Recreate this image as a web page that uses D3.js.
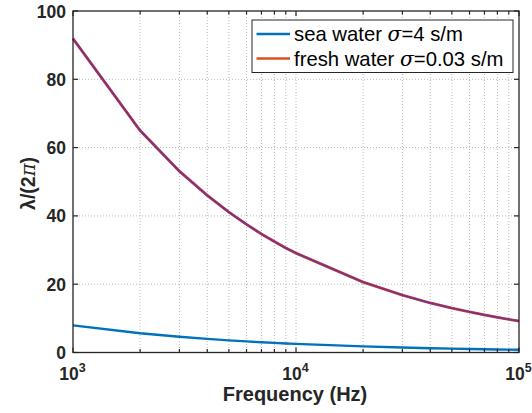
<!DOCTYPE html>
<html lang="en">
<head>
    <meta charset="utf-8">
    <title>Wavelength vs frequency</title>
    <script src="https://cdn.jsdelivr.net/npm/d3@7"></script>
    <style>
        body { margin: 0; background: #fff; }
        text { font-family: "Liberation Sans", Arial, sans-serif; }
    </style>
</head>
<body>
<script>
    // data
    var freq = [1e3, 2e3, 3e3, 4e3, 5e3, 6e3, 7e3, 8e3, 9e3, 1e4,
                2e4, 3e4, 4e4, 5e4, 6e4, 7e4, 8e4, 9e4, 1e5];
    var seaWater = [7.96, 5.63, 4.6, 3.98, 3.56, 3.25, 3.0, 2.81, 2.65, 2.52,
                    1.78, 1.45, 1.26, 1.13, 1.03, 0.95, 0.89, 0.84, 0.80];
    var freshWater = [91.9, 65.0, 53.1, 46.0, 41.1, 37.5, 34.7, 32.5, 30.6, 29.1,
                      20.6, 16.8, 14.5, 13.0, 11.9, 11.0, 10.3, 9.7, 9.2];
    var yTicks = [0, 20, 40, 60, 80, 100];
    var xDecades = [1e3, 1e4, 1e5];
    var seriesNames = ["sea water", "fresh water"];
    var sigmaLabels = ["=4 s/m", "=0.03 s/m"];

    var w = 532, h = 413;
    var pLeft = 73, pRight = 519, pTop = 11, pBottom = 352.5;

    var svg = d3.select("body").append("svg")
        .attr("width", w)
        .attr("height", h);

    var x = d3.scaleLog().domain([1e3, 1e5]).range([pLeft, pRight]);
    var y = d3.scaleLinear().domain([0, 100]).range([pBottom, pTop]);

    // minor/major log ticks
    var xAll = x.ticks();
    var gridColor = "#b8b8b8";

    // grid
    svg.append("g").selectAll("line")
        .data(xAll.filter(function (d) { return d > 1e3 && d < 1e5; }))
        .enter().append("line")
        .attr("x1", d => x(d)).attr("x2", d => x(d))
        .attr("y1", pTop).attr("y2", pBottom)
        .attr("stroke", gridColor)
        .attr("stroke-width", 1)
        .attr("stroke-dasharray", "1,2");

    svg.append("g").selectAll("line")
        .data(yTicks.filter(d => d > 0 && d < 100))
        .enter().append("line")
        .attr("x1", pLeft).attr("x2", pRight)
        .attr("y1", d => y(d)).attr("y2", d => y(d))
        .attr("stroke", gridColor)
        .attr("stroke-width", 1)
        .attr("stroke-dasharray", "1,2");

    // lines
    var line = function (vals) {
        return d3.line()
            .x((d, i) => x(freq[i]))
            .y(d => y(d))(vals);
    };

    svg.append("path")
        .attr("d", line(seaWater))
        .attr("fill", "none")
        .attr("stroke", "#0072BD")
        .attr("stroke-width", 2.4);

    svg.append("path")
        .attr("d", line(freshWater))
        .attr("fill", "none")
        .attr("stroke", "#D95319")
        .attr("stroke-width", 2.8);

    svg.append("path")
        .attr("d", line(freshWater))
        .attr("fill", "none")
        .attr("stroke", "#7E2F8E")
        .attr("stroke-width", 2);

    // axes box
    svg.append("rect")
        .attr("x", pLeft).attr("y", pTop)
        .attr("width", pRight - pLeft).attr("height", pBottom - pTop)
        .attr("fill", "none")
        .attr("stroke", "#262626")
        .attr("stroke-width", 1.3);

    // inward ticks
    var tickG = svg.append("g").attr("stroke", "#262626").attr("stroke-width", 1.2);
    xAll.forEach(function (d) {
        var isMajor = xDecades.indexOf(d) >= 0;
        var len = isMajor ? 5 : 3.5;
        tickG.append("line").attr("x1", x(d)).attr("x2", x(d))
            .attr("y1", pBottom).attr("y2", pBottom - len);
        tickG.append("line").attr("x1", x(d)).attr("x2", x(d))
            .attr("y1", pTop).attr("y2", pTop + len);
    });
    yTicks.forEach(function (d) {
        tickG.append("line").attr("x1", pLeft).attr("x2", pLeft + 5)
            .attr("y1", y(d)).attr("y2", y(d));
        tickG.append("line").attr("x1", pRight).attr("x2", pRight - 5)
            .attr("y1", y(d)).attr("y2", y(d));
    });

    // y tick labels
    svg.append("g").selectAll("text")
        .data(yTicks)
        .enter().append("text")
        .attr("x", pLeft - 7)
        .attr("y", d => y(d) + 6.5)
        .attr("text-anchor", "end")
        .attr("font-size", "17.5px")
        .attr("font-weight", "bold")
        .attr("fill", "#262626")
        .text(d => d);

    // x tick labels 10^n
    xDecades.forEach(function (d) {
        var t = svg.append("text")
            .attr("x", x(d) - 0.5)
            .attr("y", 380)
            .attr("text-anchor", "middle")
            .attr("font-size", "17.5px")
            .attr("font-weight", "bold")
            .attr("fill", "#262626");
        t.append("tspan").text("10");
        t.append("tspan")
            .attr("dy", -8)
            .attr("font-size", "12.5px")
            .text(Math.round(Math.log10(d)));
    });

    // axis labels
    svg.append("text")
        .attr("x", 295)
        .attr("y", 401)
        .attr("text-anchor", "middle")
        .attr("font-size", "20px")
        .attr("font-weight", "bold")
        .attr("fill", "#262626")
        .text("Frequency (Hz)");

    var yl = svg.append("text")
        .attr("transform", "translate(35,183.5) rotate(-90)")
        .attr("text-anchor", "middle")
        .attr("font-size", "19.5px")
        .attr("font-weight", "bold")
        .attr("fill", "#262626");
    yl.append("tspan").text("\u03bb/(2");
    yl.append("tspan").attr("font-family", "'DejaVu Serif', serif")
        .attr("font-style", "italic").attr("font-weight", "normal").text("\u03c0");
    yl.append("tspan").text(")");

    // legend
    var lg = svg.append("g");
    lg.append("rect")
        .attr("x", 252).attr("y", 20)
        .attr("width", 261).attr("height", 52.5)
        .attr("fill", "#fff")
        .attr("stroke", "#262626")
        .attr("stroke-width", 1);
    var legendColors = ["#0072BD", "#D95319"];
    seriesNames.forEach(function (name, i) {
        var cy = 34 + i * 24.5;
        lg.append("line")
            .attr("x1", 256.5).attr("x2", 290)
            .attr("y1", cy).attr("y2", cy)
            .attr("stroke", legendColors[i])
            .attr("stroke-width", 2.4);
        var t = lg.append("text")
            .attr("x", 294)
            .attr("y", cy + 7)
            .attr("font-size", "20.3px")
            .attr("fill", "#000");
        t.append("tspan").text(name + " ");
        t.append("tspan").attr("font-family", "'DejaVu Serif', serif")
            .attr("font-style", "italic").text("\u03c3");
        t.append("tspan").text(sigmaLabels[i]);
    });
</script>
</body>
</html>
